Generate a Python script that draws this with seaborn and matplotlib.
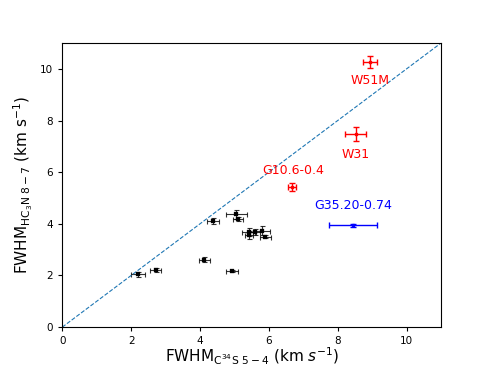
import matplotlib
matplotlib.use("Agg")
import matplotlib.pyplot as plt
import seaborn as sns
import pandas as pd

# black sources
x_blk = [2.19, 2.71, 4.13, 4.93, 4.38, 5.06, 5.10, 5.43, 5.43, 5.59, 5.79, 5.90]
y_blk = [2.05, 2.20, 2.61, 2.18, 4.10, 4.37, 4.19, 3.69, 3.58, 3.69, 3.73, 3.50]
xe_blk = [0.20, 0.15, 0.15, 0.18, 0.18, 0.30, 0.15, 0.20, 0.12, 0.15, 0.25, 0.15]
ye_blk = [0.10, 0.08, 0.10, 0.05, 0.12, 0.18, 0.08, 0.15, 0.15, 0.12, 0.18, 0.06]

# labelled sources
names = ["W51M", "W31", "G10.6-0.4", "G35.20-0.74"]
x_lab = [8.94, 8.52, 6.68, 8.45]
y_lab = [10.27, 7.48, 5.43, 3.95]
xe_lab = [0.20, 0.30, 0.12, 0.70]
ye_lab = [0.22, 0.28, 0.15, 0.06]
colors = ["red", "red", "red", "blue"]
text_pos = [(8.94, 9.55), (8.52, 6.70), (6.70, 6.08), (8.45, 4.70)]

fig, ax = plt.subplots(figsize=(4.9, 3.68), dpi=100)
plt.subplots_adjust(left=0.127, right=0.9, top=0.883, bottom=0.111)

df = pd.DataFrame({"x": x_blk, "y": y_blk})
sns.scatterplot(data=df, x="x", y="y", ax=ax, color="black", marker="s", s=6,
                edgecolor="black", zorder=3)
ax.errorbar(x_blk, y_blk, xerr=xe_blk, yerr=ye_blk, fmt="none", ecolor="black",
            elinewidth=0.8, capsize=1.8, capthick=0.8, alpha=0.8)

for i in range(len(names)):
    ax.errorbar(x_lab[i], y_lab[i], xerr=xe_lab[i], yerr=ye_lab[i], fmt="s",
                color=colors[i], ms=2, elinewidth=1.0, capsize=2.5, capthick=1.0)
    ax.text(text_pos[i][0], text_pos[i][1], names[i], color=colors[i],
            ha="center", va="center", fontsize=9)

ax.plot([0, 11], [0, 11], ls="--", lw=0.8, color="tab:blue")

ax.set_xlim(0, 11)
ax.set_ylim(0, 11)
ax.set_xticks([0, 2, 4, 6, 8, 10])
ax.set_yticks([0, 2, 4, 6, 8, 10])
ax.tick_params(labelsize=7.5, length=3)
ax.set_xlabel(r"FWHM$_{\mathrm{C^{34}S\ 5-4}}$ (km $s^{-1}$)", fontsize=11,
              labelpad=0)
ax.set_ylabel(r"FWHM$_{\mathrm{HC_3N\ 8-7}}$ (km s$^{-1}$)", fontsize=11)

plt.savefig("out.png", dpi=100)
